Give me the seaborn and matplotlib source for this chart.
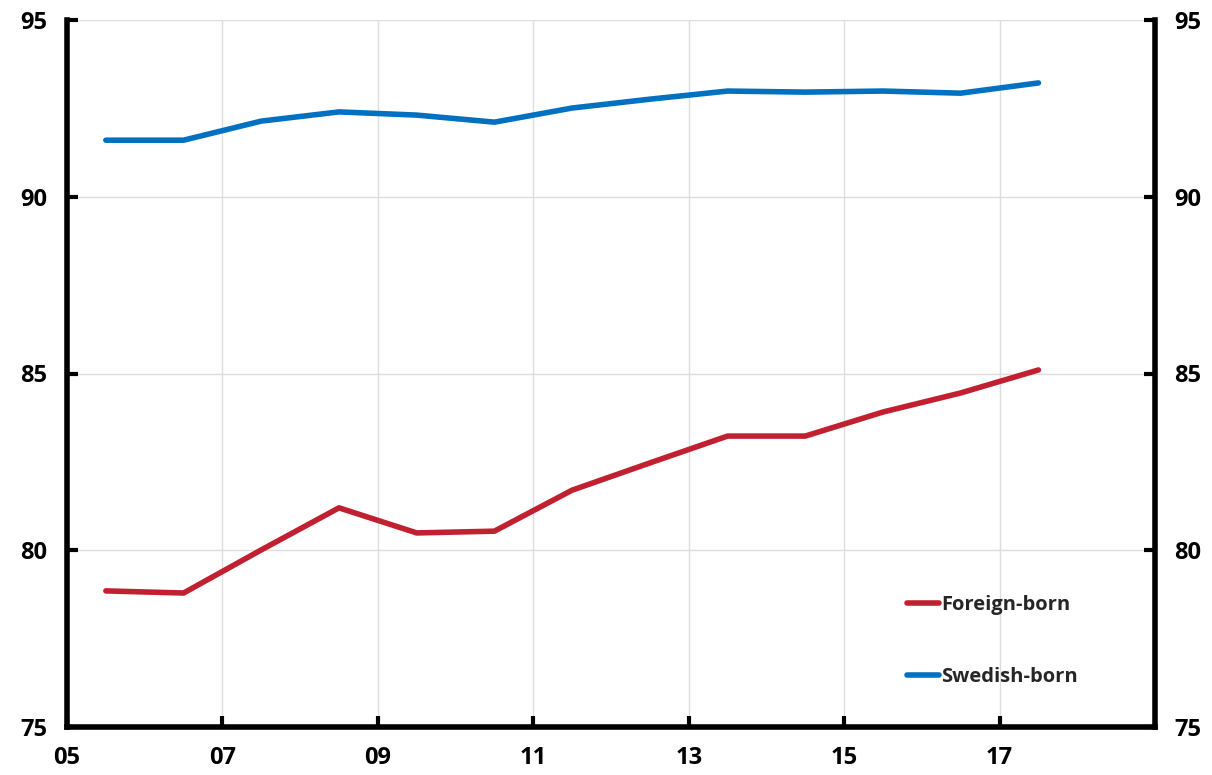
import pandas as pd
import matplotlib.pyplot as plt
import seaborn as sns

# --- data ---
years = [2005.5, 2006.5, 2007.5, 2008.5, 2009.5, 2010.5, 2011.5,
         2012.5, 2013.5, 2014.5, 2015.5, 2016.5, 2017.5]
foreign_born = [78.85, 78.79, 80.01, 81.2, 80.49, 80.54, 81.7,
                82.47, 83.23, 83.23, 83.91, 84.45, 85.1]
swedish_born = [91.6, 91.6, 92.14, 92.4, 92.31, 92.11, 92.51,
                92.76, 92.99, 92.96, 92.99, 92.93, 93.22]
x_ticks = [2005, 2007, 2009, 2011, 2013, 2015, 2017]
x_labels = ['05', '07', '09', '11', '13', '15', '17']
y_ticks = [75, 80, 85, 90, 95]

df = pd.DataFrame({'year': years * 2,
                   'value': foreign_born + swedish_born,
                   'group': ['Foreign-born'] * len(years) + ['Swedish-born'] * len(years)})

sns.set_style('white')
plt.rcParams['font.family'] = ['Open Sans', 'DejaVu Sans']
plt.rcParams['font.weight'] = 'bold'

fig = plt.figure(figsize=(12.12, 7.75), dpi=100)
ax = fig.add_axes([67 / 1212, 1 - 727 / 775, (1155 - 67) / 1212, (727 - 20) / 775])

sns.lineplot(data=df, x='year', y='value', hue='group',
             palette={'Foreign-born': '#C0202F', 'Swedish-born': '#0070C0'},
             linewidth=4, ax=ax, solid_capstyle='round')

ax.set_xlim(2005, 2019)
ax.set_ylim(75, 95)
ax.set_xticks(x_ticks)
ax.set_xticklabels(x_labels)
ax.set_yticks(y_ticks)
ax.set_xlabel('')
ax.set_ylabel('')
ax.grid(True, color='#dddddd', linewidth=1)
ax.set_axisbelow(True)

for side in ['left', 'bottom', 'right']:
    ax.spines[side].set_visible(True)
    ax.spines[side].set_linewidth(4)
    ax.spines[side].set_color('black')
ax.spines['top'].set_visible(False)

ax.tick_params(axis='both', direction='in', length=8, width=3, labelsize=17,
               colors='black')
ax.tick_params(axis='y', right=True, labelright=True, left=True, labelleft=True, pad=14)
ax.tick_params(axis='x', bottom=True, pad=14)
for lab in ax.get_xticklabels() + ax.get_yticklabels():
    lab.set_fontweight('bold')
for t in ax.yaxis.get_major_ticks():
    t.label2.set_fontweight('bold')

leg = ax.legend(loc='upper left', bbox_to_anchor=(0.755, 0.212), frameon=False,
                prop={'size': 14.5, 'weight': 'bold'},
                handlelength=1.6, handletextpad=0.1, labelspacing=2.55)
for line in leg.get_lines():
    line.set_linewidth(4)

plt.savefig('out.png', dpi=100)
plt.close()
